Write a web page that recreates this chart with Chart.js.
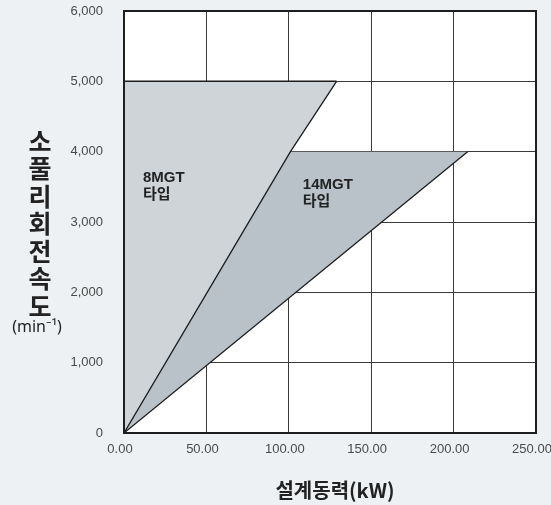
<!DOCTYPE html>
<html>
<head>
<meta charset="utf-8">
<script src="https://cdn.jsdelivr.net/npm/chart.js@4.4.1/dist/chart.umd.min.js"></script>
<style>
  html, body { margin: 0; padding: 0; background: #eef1f3; }
  #wrap { width: 551px; height: 505px; }
</style>
</head>
<body>
<div id="wrap"><canvas id="beltChart" width="551" height="505"></canvas></div>
<script>
// axis ranges
const xMax = 250;
const xStep = 50;
const yMax = 6000;
const yStep = 1000;

// 8MGT area: top cap at 5,000 and the steep boundary from the origin
const mgt8Top = [[0, 5000], [129, 5000]];
const mgt8Edge = [[0, 0], [101, 4000], [129, 5000]];
// 14MGT area: upper edge (steep line, then cap at 4,000) and the shallow line
const mgt14Top = [[0, 0], [101, 4000], [208.5, 4000]];
const mgt14Edge = [[0, 0], [208.5, 4000]];

const areaNames = [["8MGT", "타입"], ["14MGT", "타입"]];
const yTitle = "소풀리회전속도";
const yUnit = "(min⁻¹)";
const xTitle = "설계동력(kW)";

// where the area names sit (data units, top-left of text block)
const nameSpots = [[11.5, 3740], [108.5, 3640]];

const toPts = (arr) => arr.map(([x, y]) => ({ x: x, y: y }));

const lineColor = "#1c1c1c";

const frameAndText = {
  id: "frameAndText",
  beforeDraw(chart) {
    const { ctx, chartArea } = chart;
    ctx.save();
    ctx.fillStyle = "#ffffff";
    ctx.fillRect(chartArea.left, chartArea.top,
      chartArea.right - chartArea.left, chartArea.bottom - chartArea.top);
    ctx.restore();
  },
  afterDraw(chart) {
    const { ctx, chartArea, scales } = chart;
    ctx.save();
    ctx.strokeStyle = "#1e1e1e";
    ctx.lineWidth = 2;
    ctx.strokeRect(chartArea.left, chartArea.top,
      chartArea.right - chartArea.left, chartArea.bottom - chartArea.top);

    // area names
    ctx.fillStyle = "#222";
    ctx.font = 'bold 15px "Liberation Sans", "Noto Sans CJK KR"';
    ctx.textAlign = "left";
    ctx.textBaseline = "top";
    areaNames.forEach((lines, i) => {
      const px = scales.x.getPixelForValue(nameSpots[i][0]);
      const py = scales.y.getPixelForValue(nameSpots[i][1]);
      lines.forEach((t, j) => ctx.fillText(t, px, py + j * 17));
    });

    // stacked y title
    ctx.font = 'bold 25px "Noto Sans CJK KR"';
    ctx.textAlign = "center";
    ctx.textBaseline = "middle";
    [...yTitle].forEach((ch, i) => ctx.fillText(ch, 40, 141 + i * 27.5));
    ctx.font = '16px "Noto Sans", "DejaVu Sans"';
    ctx.fillText(yUnit, 37, 327);

    // x title
    ctx.font = 'bold 20px "Noto Sans CJK KR"';
    ctx.fillText(xTitle, 335, 490);
    ctx.restore();
  },
};

const ctx = document.getElementById("beltChart").getContext("2d");
const beltChart = new Chart(ctx, {
  type: "scatter",
  data: {
    datasets: [
      {
        label: "8MGT top",
        data: toPts(mgt8Top),
        showLine: true,
        fill: "+1",
        backgroundColor: "#cfd4d8",
        borderColor: lineColor,
        borderWidth: 1.5,
        pointRadius: 0,
      },
      {
        label: "8MGT edge",
        data: toPts(mgt8Edge),
        showLine: true,
        fill: false,
        borderColor: lineColor,
        borderWidth: 1.3,
        pointRadius: 0,
      },
      {
        label: "14MGT top",
        data: toPts(mgt14Top),
        showLine: true,
        fill: "+1",
        backgroundColor: "#b8c2c8",
        borderColor: "rgba(0,0,0,0)",
        borderWidth: 1,
        pointRadius: 0,
      },
      {
        label: "14MGT edge",
        data: toPts(mgt14Edge),
        showLine: true,
        fill: false,
        borderColor: lineColor,
        borderWidth: 1.3,
        pointRadius: 0,
      },
    ],
  },
  plugins: [frameAndText],
  options: {
    responsive: false,
    animation: false,
    events: [],
    layout: { padding: { top: 11, right: 15, left: 0, bottom: 0 } },
    plugins: {
      legend: { display: false },
      tooltip: { enabled: false },
      filler: { drawTime: "beforeDatasetsDraw" },
    },
    scales: {
      x: {
        type: "linear",
        min: 0,
        max: xMax,
        z: 1,
        border: { display: false },
        grid: { color: "#3a3a3a", lineWidth: 1, drawTicks: false },
        ticks: {
          stepSize: xStep,
          padding: 9,
          labelOffset: -4,
          color: "#4a4a4a",
          font: { family: "Liberation Sans", size: 13 },
          callback: (v) => v.toFixed(2),
        },
        afterFit: (s) => {
          s.height = 72;
          s.paddingLeft = 0;
          s.paddingRight = 0;
        },
      },
      y: {
        type: "linear",
        min: 0,
        max: yMax,
        z: 1,
        border: { display: false },
        grid: { color: "#3a3a3a", lineWidth: 1, drawTicks: false },
        ticks: {
          stepSize: yStep,
          padding: 21,
          color: "#4a4a4a",
          font: { family: "Liberation Sans", size: 13 },
          callback: (v) => v.toLocaleString("en-US"),
        },
        afterFit: (s) => {
          s.width = 124;
          s.paddingTop = 0;
          s.paddingBottom = 0;
        },
      },
    },
  },
});
</script>
</body>
</html>
